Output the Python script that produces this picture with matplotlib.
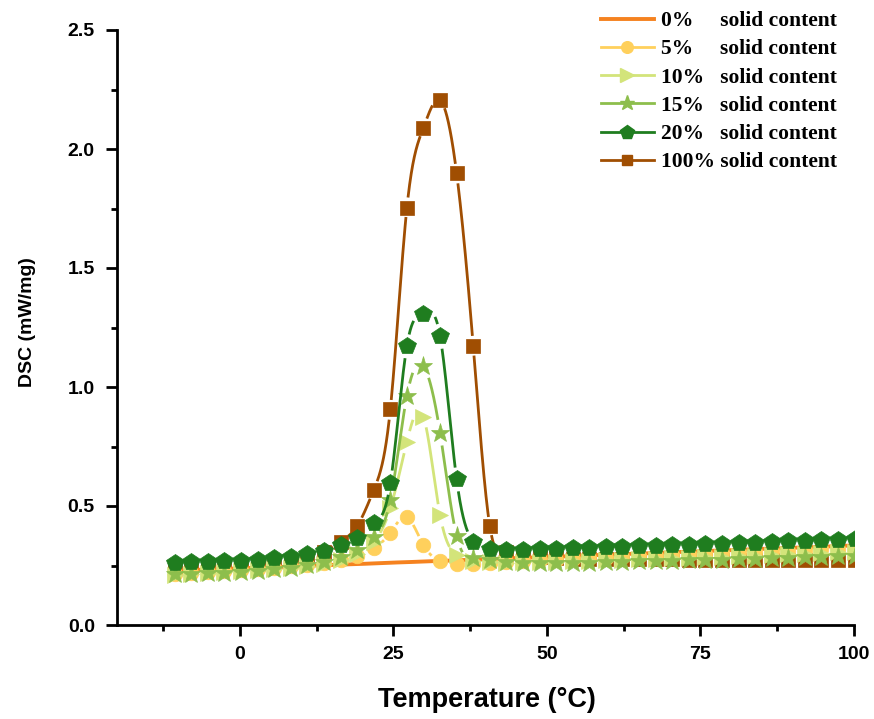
import numpy as np
import matplotlib
matplotlib.use("Agg")
import matplotlib.pyplot as plt
from matplotlib.lines import Line2D

# Temperature sampling points (°C)
temperature = [-10.6, -7.9, -5.2, -2.5, 0.2, 2.9, 5.6, 8.3, 11.0, 13.7,
               16.4, 19.1, 21.8, 24.5, 27.2, 29.9, 32.6, 35.3, 38.0, 40.7,
               43.4, 46.1, 48.8, 51.5, 54.2, 56.9, 59.6, 62.3, 65.0, 67.7,
               70.4, 73.1, 75.8, 78.5, 81.2, 83.9, 86.6, 89.3, 92.0, 94.7,
               97.4, 100.1]

# DSC heat flow (mW/mg) for each solid content
dsc_0 = [0.228, 0.231, 0.233, 0.236, 0.238, 0.241, 0.243, 0.246, 0.249, 0.251,
         0.254, 0.256, 0.259, 0.262, 0.264, 0.267, 0.269, 0.272, 0.275, 0.277,
         0.280, 0.282, 0.285, 0.287, 0.290, 0.293, 0.295, 0.298, 0.300, 0.303,
         0.306, 0.308, 0.311, 0.313, 0.316, 0.319, 0.321, 0.324, 0.326, 0.329,
         0.332, 0.334]
dsc_5 = [0.215, 0.218, 0.222, 0.226, 0.230, 0.235, 0.240, 0.246, 0.253, 0.262,
         0.274, 0.292, 0.322, 0.388, 0.452, 0.336, 0.269, 0.256, 0.258, 0.262,
         0.266, 0.269, 0.272, 0.275, 0.278, 0.281, 0.283, 0.286, 0.289, 0.291,
         0.294, 0.297, 0.299, 0.302, 0.305, 0.307, 0.310, 0.313, 0.316, 0.318,
         0.321, 0.324]
dsc_10 = [0.210, 0.213, 0.217, 0.221, 0.225, 0.230, 0.235, 0.241, 0.248, 0.258,
          0.272, 0.300, 0.350, 0.490, 0.770, 0.875, 0.462, 0.294, 0.268, 0.263,
          0.262, 0.263, 0.264, 0.266, 0.268, 0.270, 0.272, 0.274, 0.276, 0.278,
          0.280, 0.283, 0.285, 0.287, 0.290, 0.292, 0.295, 0.297, 0.300, 0.302,
          0.305, 0.308]
dsc_15 = [0.214, 0.215, 0.217, 0.220, 0.224, 0.228, 0.234, 0.241, 0.252, 0.266,
          0.287, 0.315, 0.371, 0.525, 0.962, 1.088, 0.808, 0.374, 0.280, 0.272,
          0.266, 0.262, 0.260, 0.260, 0.261, 0.262, 0.264, 0.265, 0.267, 0.268,
          0.270, 0.272, 0.273, 0.275, 0.277, 0.279, 0.281, 0.283, 0.285, 0.287,
          0.289, 0.291]
dsc_20 = [0.262, 0.264, 0.266, 0.268, 0.271, 0.275, 0.280, 0.287, 0.297, 0.312,
          0.336, 0.364, 0.427, 0.595, 1.172, 1.306, 1.214, 0.612, 0.350, 0.318,
          0.315, 0.316, 0.319, 0.321, 0.323, 0.325, 0.327, 0.329, 0.331, 0.333,
          0.335, 0.337, 0.340, 0.342, 0.344, 0.346, 0.348, 0.351, 0.353, 0.356,
          0.359, 0.362]
dsc_100 = [0.240, 0.243, 0.246, 0.250, 0.254, 0.258, 0.263, 0.270, 0.282, 0.305,
           0.350, 0.416, 0.567, 0.906, 1.753, 2.090, 2.205, 1.898, 1.172, 0.416,
           0.305, 0.290, 0.284, 0.281, 0.279, 0.278, 0.277, 0.277, 0.276, 0.276,
           0.276, 0.275, 0.275, 0.275, 0.275, 0.274, 0.274, 0.274, 0.274, 0.274,
           0.273, 0.273]

labels = ["0%     solid content", "5%     solid content", "10%   solid content",
          "15%   solid content", "20%   solid content", "100% solid content"]
colors = ["#F5821F", "#FFD05C", "#D3E47A", "#8DBE4C", "#1F7D1F", "#A04E02"]
markers = [None, "o", ">", "*", "p", "s"]
marker_sizes = [0, 10.5, 12.0, 14.0, 13.0, 9.5]
line_widths = [2.8, 2.0, 2.0, 2.0, 2.0, 2.0]
values = [dsc_0, dsc_5, dsc_10, dsc_15, dsc_20, dsc_100]
# drawing order: bottom to top
draw_order = [5, 0, 1, 2, 3, 4]


def natural_spline(x, y, xs):
    x = np.asarray(x, float)
    y = np.asarray(y, float)
    n = len(x)
    h = np.diff(x)
    A = np.zeros((n, n))
    r = np.zeros(n)
    A[0, 0] = 1.0
    A[-1, -1] = 1.0
    for i in range(1, n - 1):
        A[i, i - 1] = h[i - 1]
        A[i, i] = 2 * (h[i - 1] + h[i])
        A[i, i + 1] = h[i]
        r[i] = 6 * ((y[i + 1] - y[i]) / h[i] - (y[i] - y[i - 1]) / h[i - 1])
    M = np.linalg.solve(A, r)
    idx = np.clip(np.searchsorted(x, xs) - 1, 0, n - 2)
    x0, x1 = x[idx], x[idx + 1]
    hh = x1 - x0
    a = (x1 - xs) / hh
    b = (xs - x0) / hh
    return (a * y[idx] + b * y[idx + 1]
            + ((a ** 3 - a) * M[idx] + (b ** 3 - b) * M[idx + 1]) * hh ** 2 / 6)


fig = plt.figure(figsize=(8.74, 7.19), dpi=100)
ax = fig.add_axes([117 / 874, 1 - 625 / 719, 737 / 874, 595 / 719])
ax.set_xlim(-20, 100)
ax.set_ylim(0, 2.5)

xs = np.linspace(temperature[0], temperature[-1], 3000)
for zi, i in enumerate(draw_order):
    t = np.asarray(temperature)
    v = np.asarray(values[i])
    ys = natural_spline(t, v, xs)
    if markers[i] is not None:
        # leave a small gap in the curve around each symbol
        pts = ax.transData.transform(np.column_stack([xs, ys]))
        mpts = ax.transData.transform(np.column_stack([t, v]))
        d = np.min(np.hypot(pts[:, None, 0] - mpts[None, :, 0],
                            pts[:, None, 1] - mpts[None, :, 1]), axis=1)
        gap = marker_sizes[i] * 100 / 72 / 2 + 2.5
        ys = np.where(d < gap, np.nan, ys)
    ax.plot(xs, ys, color=colors[i], lw=line_widths[i], zorder=2 + zi,
            solid_capstyle="butt")
    if markers[i] is not None:
        ax.plot(t, v, linestyle="none", marker=markers[i],
                ms=marker_sizes[i], color=colors[i], mec=colors[i], mew=0.5,
                zorder=2 + zi)

for side in ("top", "right"):
    ax.spines[side].set_visible(False)
for side in ("left", "bottom"):
    ax.spines[side].set_linewidth(2.0)

ax.set_xticks([0, 25, 50, 75, 100])
ax.set_xticks([-12.5, 12.5, 37.5, 62.5, 87.5], minor=True)
ax.set_yticks([0.0, 0.5, 1.0, 1.5, 2.0, 2.5])
ax.set_yticks([0.25, 0.75, 1.25, 1.75, 2.25], minor=True)
ax.set_yticklabels(["0.0", "0.5", "1.0", "1.5", "2.0", "2.5"])
ax.tick_params(which="major", direction="out", length=8, width=2.0)
ax.tick_params(which="minor", direction="out", length=4.5, width=2.0)
ax.tick_params(axis="x", which="major", pad=7)
ax.tick_params(axis="y", which="major", pad=8)
for lab in ax.get_xticklabels() + ax.get_yticklabels():
    lab.set_fontfamily("Liberation Sans")
    lab.set_fontweight("bold")
    lab.set_fontsize(14)

fig.text(487 / 874, 1 - 700 / 719, "Temperature (°C)", ha="center", va="center",
         fontfamily="Liberation Sans", fontweight="bold", fontsize=19.5)
fig.text(28 / 874, 1 - 322 / 719, "DSC (mW/mg)", ha="center", va="center",
         rotation=90, fontfamily="Liberation Sans", fontweight="bold",
         fontsize=14)

handles = []
for i in range(6):
    handles.append(Line2D([], [], color=colors[i], lw=line_widths[i],
                          marker=markers[i] if markers[i] else None,
                          ms=marker_sizes[i] * 0.8, mec=colors[i]))
leg = fig.legend(handles, labels, loc="upper left",
                 bbox_to_anchor=(601 / 874, 1 - 11 / 719), frameon=False,
                 prop={"family": "Liberation Serif", "weight": "bold", "size": 15.5},
                 handlelength=2.45, handletextpad=0.35, labelspacing=0.38,
                 borderpad=0, borderaxespad=0, numpoints=1)

fig.savefig("out.png", dpi=100)
